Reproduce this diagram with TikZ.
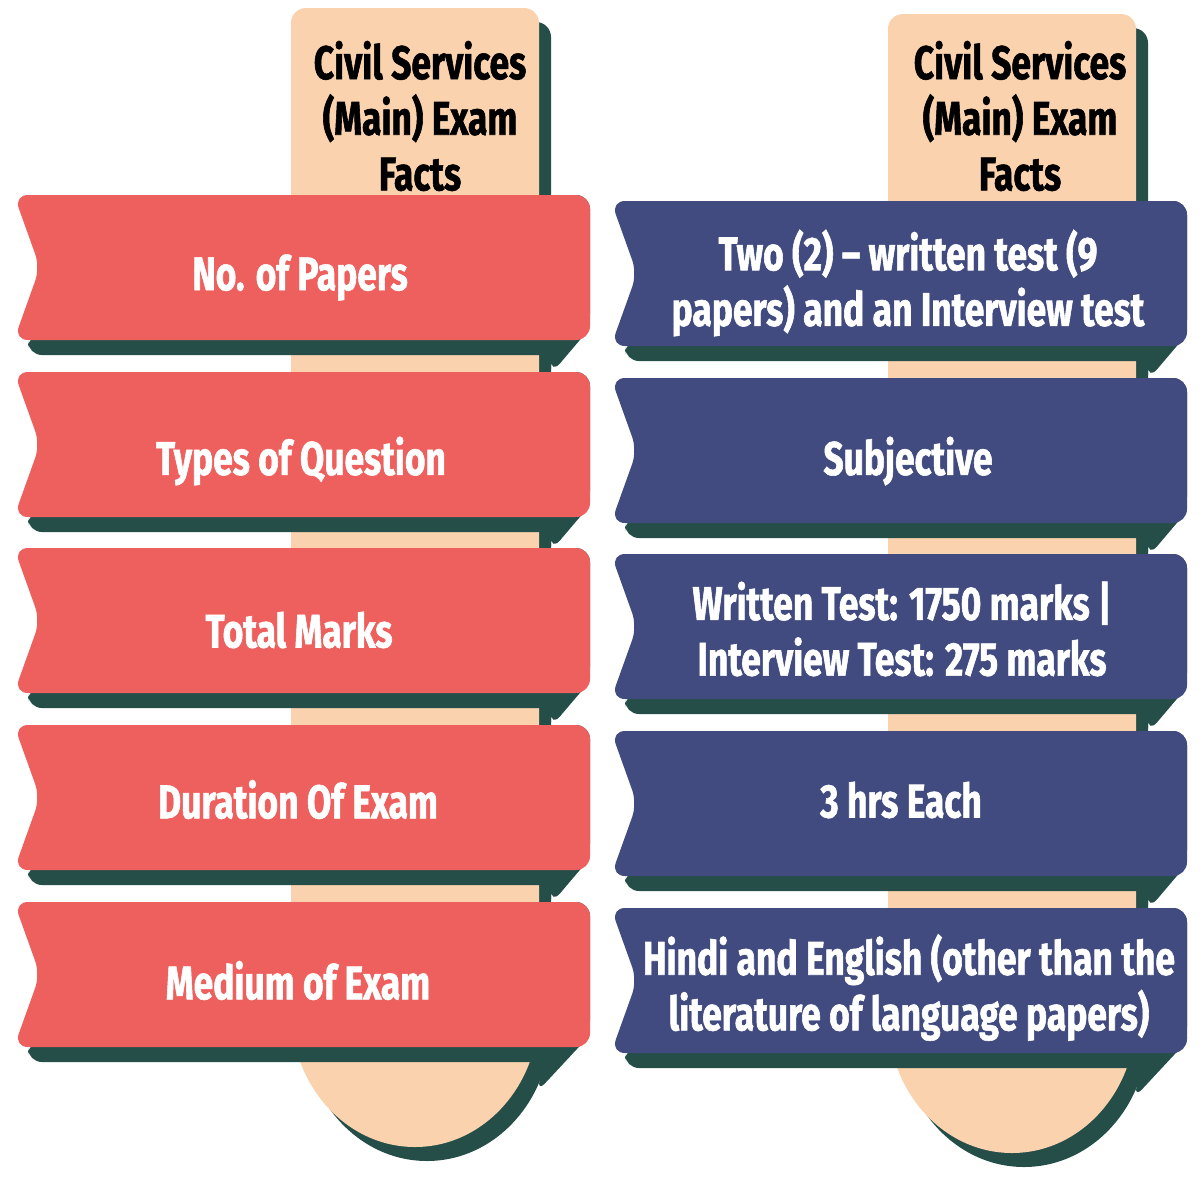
\documentclass[tikz,border=0pt]{standalone}
\usepackage{fontspec}
\newfontfamily\condfont{Fira Sans}[FakeStretch=0.75,FakeBold=1.2]
\definecolor{ribred}{HTML}{EE605E}
\definecolor{ribblue}{HTML}{424B7F}
\definecolor{peach}{HTML}{FAD2AE}
\definecolor{shadowgreen}{HTML}{264E49}
\tikzset{
  lbl/.style={font=\condfont\bfseries\fontsize{23.6}{27.8}\selectfont, text=white, align=center, inner sep=0pt},
  ttl/.style={lbl, text=black},
}
% stick shape (left column coordinates, px)
\newcommand\stickpath{(291,1010) -- (291,23) .. controls (291,14.7) and (297.7,8) .. (306,8) -- (524,8) .. controls (532.3,8) and (539,14.7) .. (539,23) -- (539,1010) .. controls (539,1085.7) and (483.5,1147) .. (415,1147) .. controls (346.5,1147) and (291,1085.7) .. (291,1010) -- cycle}
% one ribbon with its shadow: #1 top, #2 bottom, #3 colour
\newcommand\ribbonrow[3]{%
  \fill[shadowgreen,rounded corners=7pt] (80,#1) -- (590,#1) -- (590,#2-12) -- (551,#2+34) -- (551,#2+15) -- (28,#2+15) -- (28,#2-6) -- (80,#2-6) -- cycle;
  \fill[#3,rounded corners=7pt] (300,#1) -- (590,#1) -- (590,#2) -- (14,#2) -- (40,{(#1+#2)/2}) -- (14,#1) -- cycle;
}
\newcommand\lastribbon[3]{%
  \fill[shadowgreen,rounded corners=7pt] (80,#1) -- (590,#1) -- (590,#2-12) -- (536,#2+46) -- (545,#2+15) -- (28,#2+15) -- (28,#2-6) -- (80,#2-6) -- cycle;
  \fill[#3,rounded corners=7pt] (300,#1) -- (590,#1) -- (590,#2) -- (14,#2) -- (40,{(#1+#2)/2}) -- (14,#1) -- cycle;
}
\newcommand\wholecolumn[1]{%
  \fill[shadowgreen,shift={(12,14)}] \stickpath;
  \fill[peach] \stickpath;
  \ribbonrow{195}{340}{#1}
  \ribbonrow{372}{517}{#1}
  \ribbonrow{548}{693}{#1}
  \ribbonrow{725}{870}{#1}
  \lastribbon{902}{1047}{#1}
}
\begin{document}
\begin{tikzpicture}[x=0.5pt,y=-0.5pt]
\useasboundingbox (0,0) rectangle (1200,1200);
\fill[white] (0,0) rectangle (1200,1200);
\begin{scope}
  \wholecolumn{ribred}
\end{scope}
\begin{scope}[shift={(597,6)}]
  \wholecolumn{ribblue}
\end{scope}
% titles
\node[ttl] (tl) at (420,116) {Civil Services\\(Main) Exam\\Facts};
\node[ttl] (tr) at (1020,116) {Civil Services\\(Main) Exam\\Facts};
% left labels
\node[lbl] (l1) at (300,277.5) {No. of Papers};
\node[lbl] (l2) at (301,461) {Types of Question};
\node[lbl] (l3) at (299,630) {Total Marks};
\node[lbl] (l4) at (298,799.5) {Duration Of Exam};
\node[lbl] (l5) at (298,980.5) {Medium of Exam};
% right labels
\node[lbl] (r1) at (908,283) {Two (2) – written test (9\\papers) and an Interview test};
\node[lbl] (r2) at (908,461) {Subjective};
\node[lbl] (r3) at (902,629) {Written Test: 1750 marks |\\Interview Test: 275 marks};
\node[lbl] (r4) at (901,800) {3 hrs Each};
\node[lbl] (r5) at (909,987.5) {Hindi and English (other than the\\literature of language papers)};
\end{tikzpicture}
\end{document}
